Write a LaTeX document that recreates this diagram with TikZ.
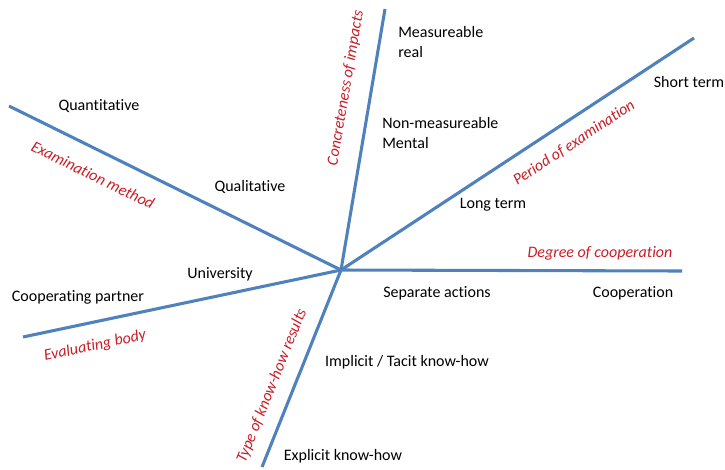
\documentclass[tikz,border=0pt]{standalone}
\usepackage{fontspec}
\setmainfont{Carlito}[Ligatures={NoCommon}]
\definecolor{axisblue}{RGB}{79,129,189}
\definecolor{labred}{RGB}{200,30,40}
\begin{document}
\begin{tikzpicture}[x=0.75pt,y=-0.75pt,
  axis/.style={draw=axisblue,line width=2.3pt},
  pole/.style={font=\fontsize{12}{14.5}\selectfont,text=black,inner sep=0pt},
  dimlab/.style={font=\fontsize{12}{14.5}\selectfont\itshape,text=labred,inner sep=0pt}]
\useasboundingbox (0,0) rectangle (725,469);
\coordinate (c) at (341,270);
\coordinate (ul) at (9,106);
\coordinate (top) at (385,9);
\coordinate (ur) at (694,38);
\coordinate (rt) at (682,271);
\coordinate (ll) at (23,337);
\coordinate (bt) at (262,467);
\draw[axis] (c) -- (ul);
\draw[axis] (c) -- (top);
\draw[axis] (c) -- (ur);
\draw[axis] (c) -- (rt);
\draw[axis] (c) -- (ll);
\draw[axis] (c) -- (bt);
% poles
\node[pole] (quant) at (99,106) {Quantitative};
\node[pole] (qual) at (250,187) {Qualitative};
\node[pole] (univ) at (220,274) {University};
\node[pole] (coop) at (78,297) {Cooperating partner};
\node[pole,align=left,anchor=west] (meas) at (398,42) {Measureable\\real};
\node[pole,align=left,anchor=west] (nonmeas) at (382,133) {Non-measureable\\Mental};
\node[pole] (short) at (689,82) {Short term};
\node[pole] (long) at (493,205) {Long term};
\node[pole] (sep) at (437,293) {Separate actions};
\node[pole] (cooperation) at (633,293) {Cooperation};
\node[pole] (impl) at (407,362) {Implicit / Tacit know-how};
\node[pole] (expl) at (343,456) {Explicit know-how};
% dimension labels
\node[dimlab,rotate=-26.1] (exam) at (93,175) {Examination method};
\node[dimlab,rotate=11.9] (evalb) at (95,346) {Evaluating body};
\node[dimlab,rotate=80.4] (concr) at (346,88) {Concreteness of impacts};
\node[dimlab,rotate=33.3] (period) at (574,143) {Period of examination};
\node[dimlab] (degree) at (600,253) {Degree of cooperation};
\node[dimlab,rotate=68.1] (type) at (272,386) {Type of know-how results};
\end{tikzpicture}
\end{document}
